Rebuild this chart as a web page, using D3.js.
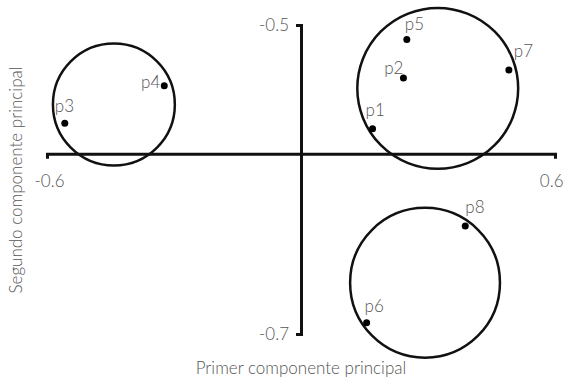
<!DOCTYPE html>
<html>
<head>
<meta charset="utf-8">
<script src="https://cdn.jsdelivr.net/npm/d3@7"></script>
<style>
  body { margin: 0; background: #fff; }
  text { font-family: Lato, "Open Sans", sans-serif; font-weight: 300; fill: #555; }
</style>
</head>
<body>
<div id="chart"></div>
<script>
// points (PCA scores)
var names = ["p1", "p2", "p3", "p4", "p5", "p6", "p7", "p8"];
var pc1 = [0.169, 0.242, -0.558, -0.323, 0.250, 0.155, 0.491, 0.388];
var pc2 = [0.097, 0.294, 0.118, 0.264, 0.444, -0.656, 0.325, -0.281];

// cluster circles
var clusterX = [-0.442, 0.323, 0.293];
var clusterY = [0.191, 0.254, -0.501];
var clusterR = [0.144, 0.190, 0.177];

// axis ticks
var xTicks = [-0.6, 0.6];
var xTickLabels = ["-0.6", "0.6"];
var yTicks = [-0.7, 0.5];
var yTickLabels = ["-0.7", "-0.5"];

// label nudges in px (label placement only)
var nudge = {
  p1: [-7, -13, "start"], p2: [0, -4, "end"], p3: [-10, -11, "start"], p4: [-4, 2, "end"],
  p5: [-2, -9, "start"], p6: [-2, -11, "start"], p7: [5, -13, "start"], p8: [0, -13, "start"]
};

var W = 564, H = 384;
var svg = d3.select("#chart").append("svg")
  .attr("width", W).attr("height", H);

var x = d3.scaleLinear().domain([-0.6, 0.6]).range([47, 555]);
var y = d3.scaleLinear().domain([-0.7, 0.5]).range([334, 25]);

// x axis through y=0
var gx = svg.append("g")
  .attr("transform", "translate(0," + y(0) + ")")
  .call(d3.axisBottom(x).tickValues(xTicks).tickSizeInner(0).tickSizeOuter(5)
    .tickPadding(21).tickFormat(function(d, i) { return xTickLabels[i]; }));

// y axis through x=0
var gy = svg.append("g")
  .attr("transform", "translate(" + x(0) + ",0)")
  .call(d3.axisLeft(y).tickValues(yTicks).tickSizeInner(0).tickSizeOuter(5)
    .tickPadding(12).tickFormat(function(d, i) { return yTickLabels[i]; }));

[gx, gy].forEach(function(g) {
  g.select(".domain").attr("stroke", "#111").attr("stroke-width", 3);
  g.selectAll("text").style("font-size", "17px").attr("fill", "#555")
    .style("font-family", "Lato, 'Open Sans', sans-serif");
});
// left label centred a bit right of the end, right label kept inside the frame
gx.selectAll(".tick text")
  .attr("text-anchor", function(d) { return d < 0 ? "middle" : "end"; })
  .attr("x", function(d) { return d < 0 ? 2 : 8; });

// circles
var clusters = clusterX.map(function(d, i) { return {cx: d, cy: clusterY[i], r: clusterR[i]}; });
svg.selectAll("circle.cluster")
  .data(clusters).enter().append("circle")
  .attr("class", "cluster")
  .attr("cx", function(d) { return x(d.cx); })
  .attr("cy", function(d) { return y(d.cy); })
  .attr("r", function(d) { return x(d.r) - x(0); })
  .attr("fill", "none")
  .attr("stroke", "#111")
  .attr("stroke-width", 2.5);

// points
var pts = names.map(function(n, i) { return {name: n, a: pc1[i], b: pc2[i]}; });
svg.selectAll("circle.dot")
  .data(pts).enter().append("circle")
  .attr("class", "dot")
  .attr("cx", function(d) { return x(d.a); })
  .attr("cy", function(d) { return y(d.b); })
  .attr("r", 3.5)
  .attr("fill", "#000");

svg.selectAll("text.lbl")
  .data(pts).enter().append("text")
  .attr("class", "lbl")
  .attr("x", function(d) { return x(d.a) + nudge[d.name][0]; })
  .attr("y", function(d) { return y(d.b) + nudge[d.name][1]; })
  .attr("text-anchor", function(d) { return nudge[d.name][2]; })
  .style("font-size", "17px")
  .text(function(d) { return d.name; });

// axis titles
svg.append("text")
  .attr("x", 301).attr("y", 374)
  .attr("text-anchor", "middle")
  .style("font-size", "17px")
  .text("Primer componente principal");

svg.append("text")
  .attr("transform", "translate(22,180)rotate(-90)")
  .attr("text-anchor", "middle")
  .style("font-size", "17px")
  .text("Segundo componente principal");
</script>
</body>
</html>
